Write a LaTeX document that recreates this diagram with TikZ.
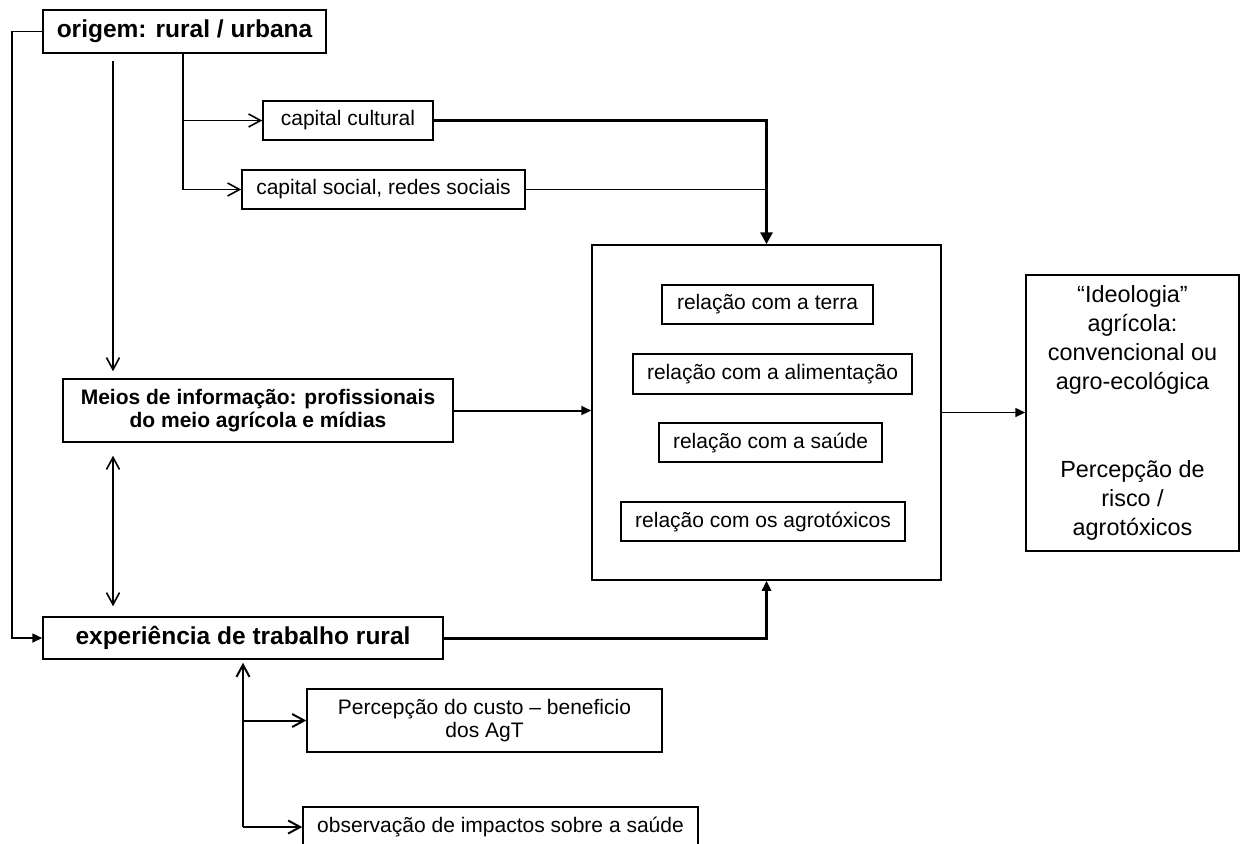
\documentclass[tikz,border=0pt]{standalone}
\usepackage{fontspec}
\setmainfont{Liberation Sans}
\usetikzlibrary{arrows.meta}

\begin{document}
\begin{tikzpicture}[x=0.5pt,y=-0.5pt]

\def\pu{0.5pt}
\def\boxlw{0.75pt}

\tikzset{box/.style = {draw, line width=\boxlw, inner sep=0pt, align=center, font=\fontsize{10.5}{11.5}\selectfont}}
\tikzset{boldbox/.style = {box, font=\fontsize{12.25}{14}\selectfont\bfseries}}
\tikzset{lnthin/.style = {line width=0.8pt}, lnmid/.style = {line width=1pt}, lnthick/.style = {line width=1.5pt}}
\tikzset{barb/.style = {-{Straight Barb[length=6pt,width=6.5pt]}}}
\tikzset{barbboth/.style = {{Straight Barb[length=6pt,width=6.5pt]}-{Straight Barb[length=6pt,width=6.5pt]}}}
\tikzset{tri/.style = {-{Triangle[length=5pt,width=4.5pt]}}}
\tikzset{trithick/.style = {-{Triangle[length=6pt,width=6pt]}}}

\useasboundingbox (0,0) rectangle (1240,843);

% columns
\coordinate (colL) at (12,0);
\coordinate (colA) at (113,0);
\coordinate (colB) at (183,0);
\coordinate (colC) at (243,0);

% left side
\node[boldbox, minimum width=283*\pu, minimum height=43*\pu] (origem) at (184.5,31.5) {origem: rural / urbana};
\node[box, minimum width=170*\pu, minimum height=39*\pu] (cultural) at (348,120.5) {capital cultural};
\node[box, minimum width=283*\pu, minimum height=39*\pu] (social) at (383.5,189.5) {capital social, redes sociais};
\node[box, minimum width=390*\pu, minimum height=63*\pu, font=\fontsize{10.5}{11.5}\selectfont\bfseries] (meios) at (258,410.5) {Meios de informação: profissionais\\do meio agrícola e mídias};
\node[boldbox, minimum width=400*\pu, minimum height=42*\pu] (exper) at (243,638) {experiência de trabalho rural};
\node[box, minimum width=355*\pu, minimum height=63*\pu, font=\fontsize{10.5}{11.5}\selectfont] (perc) at (484.5,720.5) {Percepção do custo – beneficio\\dos AgT};
\node[box, minimum width=395*\pu, minimum height=40*\pu] (obs) at (500.5,827) {observação de impactos sobre a saúde};

% central block
\node[box, minimum width=349*\pu, minimum height=335*\pu] (central) at (766.5,412.5) {};
\node[box, minimum width=211*\pu, minimum height=39*\pu] (terra) at (767.5,304.5) {relação com a terra};
\node[box, minimum width=279*\pu, minimum height=40*\pu] (alim) at (772.5,374) {relação com a alimentação};
\node[box, minimum width=223*\pu, minimum height=39*\pu] (saude) at (770.5,442.5) {relação com a saúde};
\node[box, minimum width=284*\pu, minimum height=39*\pu] (agro) at (763,521.5) {relação com os agrotóxicos};

% right
\node[box, minimum width=213*\pu, minimum height=276*\pu, font=\fontsize{11.7}{14.4}\selectfont] (ideol) at (1132.5,413) {“Ideologia”\\agrícola:\\convencional ou\\agro-ecológica\\[30pt]Percepção de\\risco /\\agrotóxicos};

% connectors
\draw[lnthin, tri] (origem.west) -- (origem.west -| colL) |- (exper.west);
\draw[lnthin, barb, shorten <=3.5pt, shorten >=3.5pt] (origem.south -| colA) -- (meios.north -| colA);
\draw[lnthin, barb] (origem.south -| colB) |- (cultural.west);
\draw[lnthin, barb] (origem.south -| colB) |- (social.west);
\draw[lnthick, trithick] (cultural.east) -| (central.north);
\draw[lnthin] (social.east) -- (social.east -| central.north);
\draw[lnmid, tri] (meios.east) -- (meios.east -| central.west);
\draw[lnthin, barbboth, shorten <=6.5pt, shorten >=5pt] (meios.south -| colA) -- (exper.north -| colA);
\draw[lnthick, tri] (exper.east) -| (central.south);
\draw[lnthin, tri] (central.east) -- (central.east -| ideol.west);
\draw[lnmid, barb, shorten >=1.5pt] (obs.west -| colC) -- (exper.south -| colC);
\draw[lnmid, barb] (perc.west -| colC) -- (perc.west);
\draw[lnmid, barb] (obs.west -| colC) -- (obs.west);

\end{tikzpicture}
\end{document}
